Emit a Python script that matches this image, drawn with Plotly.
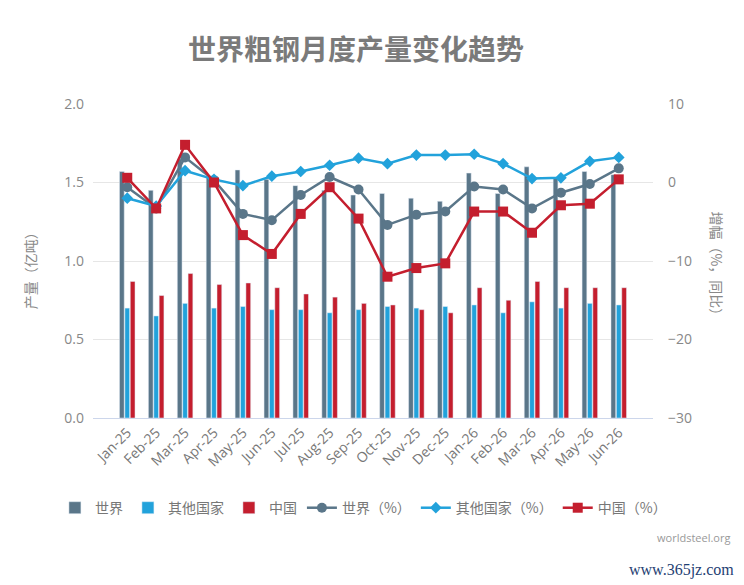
import plotly.graph_objects as go

months = ['Jan-25', 'Feb-25', 'Mar-25', 'Apr-25', 'May-25', 'Jun-25', 'Jul-25', 'Aug-25', 'Sep-25',
          'Oct-25', 'Nov-25', 'Dec-25', 'Jan-26', 'Feb-26', 'Mar-26', 'Apr-26', 'May-26', 'Jun-26']

# 产量（亿吨）
world = [1.57, 1.45, 1.65, 1.54, 1.58, 1.52, 1.48, 1.45, 1.42, 1.43, 1.40, 1.38,
         1.56, 1.43, 1.60, 1.53, 1.57, 1.55]
other = [0.70, 0.65, 0.73, 0.70, 0.71, 0.69, 0.69, 0.67, 0.69, 0.71, 0.70, 0.71,
         0.72, 0.67, 0.74, 0.70, 0.73, 0.72]
china = [0.87, 0.78, 0.92, 0.85, 0.86, 0.83, 0.79, 0.77, 0.73, 0.72, 0.69, 0.67,
         0.83, 0.75, 0.87, 0.83, 0.83, 0.83]

# 增幅（%，同比）
world_pct = [-0.6, -3.3, 3.2, 0.3, -4.0, -4.8, -1.6, 0.7, -0.9, -5.4, -4.1, -3.7,
             -0.5, -0.9, -3.3, -1.3, -0.2, 1.8]
other_pct = [-2.0, -3.0, 1.5, 0.4, -0.4, 0.8, 1.4, 2.2, 3.1, 2.4, 3.5, 3.5,
             3.6, 2.4, 0.5, 0.6, 2.7, 3.2]
china_pct = [0.6, -3.3, 4.8, 0.0, -6.7, -9.1, -4.0, -0.6, -4.6, -12.0, -10.9, -10.3,
             -3.7, -3.7, -6.4, -2.9, -2.7, 0.4]

c_world = '#5a7689'
c_other = '#22a2db'
c_china = '#c41e2e'
font = 'Noto Sans CJK SC'

fig = go.Figure()
fig.add_trace(go.Bar(x=months, y=world, name='世界', marker_color=c_world))
fig.add_trace(go.Bar(x=months, y=other, name='其他国家', marker_color=c_other))
fig.add_trace(go.Bar(x=months, y=china, name='中国', marker_color=c_china))
fig.add_trace(go.Scatter(x=months, y=world_pct, name='世界（%）', yaxis='y2', mode='lines+markers',
                         line=dict(color=c_world, width=2.5), marker=dict(symbol='circle', size=10)))
fig.add_trace(go.Scatter(x=months, y=other_pct, name='其他国家（%）', yaxis='y2', mode='lines+markers',
                         line=dict(color=c_other, width=2.5), marker=dict(symbol='diamond', size=9)))
fig.add_trace(go.Scatter(x=months, y=china_pct, name='中国（%）', yaxis='y2', mode='lines+markers',
                         line=dict(color=c_china, width=2.5), marker=dict(symbol='square', size=10)))

# page body keeps an 8px margin, so the figure is 8px smaller than the window
fig.update_layout(
    width=736, height=577,
    margin=dict(l=85, r=91, t=96, b=167, autoexpand=False),
    paper_bgcolor='white', plot_bgcolor='white',
    font=dict(family=font, color='#888888', size=13),
    barmode='group', bargap=0.44, bargroupgap=0.12,
    title=dict(text='<b>世界粗钢月度产量变化趋势</b>', x=0.473, xanchor='center', y=0.927, yanchor='middle',
               font=dict(size=28, color='#7a7a7a', family=font)),
    xaxis=dict(tickangle=-45, tickfont=dict(size=14, color='#777777', family='Open Sans'),
               showline=True, linecolor='#ccd6eb', ticks=''),
    yaxis=dict(range=[0, 2], dtick=0.5, tickformat='.1f', gridcolor='#e6e6e6', zeroline=False,
               tickfont=dict(size=14, color='#888888', family='Open Sans'), ticklabelstandoff=8),
    yaxis2=dict(range=[-30, 10], dtick=10, overlaying='y', side='right', showgrid=False, zeroline=False,
                tickfont=dict(size=14, color='#888888', family='Open Sans'), ticklabelstandoff=14),
    legend=dict(orientation='h', x=-0.068, xanchor='left', y=-0.287, yanchor='middle',
                font=dict(size=14, color='#777777'), itemwidth=30, traceorder='normal'),
    annotations=[
        dict(text='产量（亿吨）', textangle=-90, xref='paper', yref='paper', x=-0.1125, y=0.48,
             xanchor='center', yanchor='middle', showarrow=False, font=dict(size=14, color='#888888')),
        dict(text='增幅（%，同比）', textangle=90, xref='paper', yref='paper', x=1.114, y=0.48,
             xanchor='center', yanchor='middle', showarrow=False, font=dict(size=14, color='#888888')),
        dict(text='worldsteel.org', xref='paper', yref='paper', x=1.141, y=-0.382,
             xanchor='right', yanchor='middle', showarrow=False,
             font=dict(size=11, color='#999999', family='Open Sans')),
        dict(text='www.365jz.com', xref='paper', yref='paper', x=1.148, y=-0.484,
             xanchor='right', yanchor='middle', showarrow=False,
             font=dict(size=16, color='#1f3f73', family='Liberation Serif')),
    ],
)

fig.write_html('out.html')
